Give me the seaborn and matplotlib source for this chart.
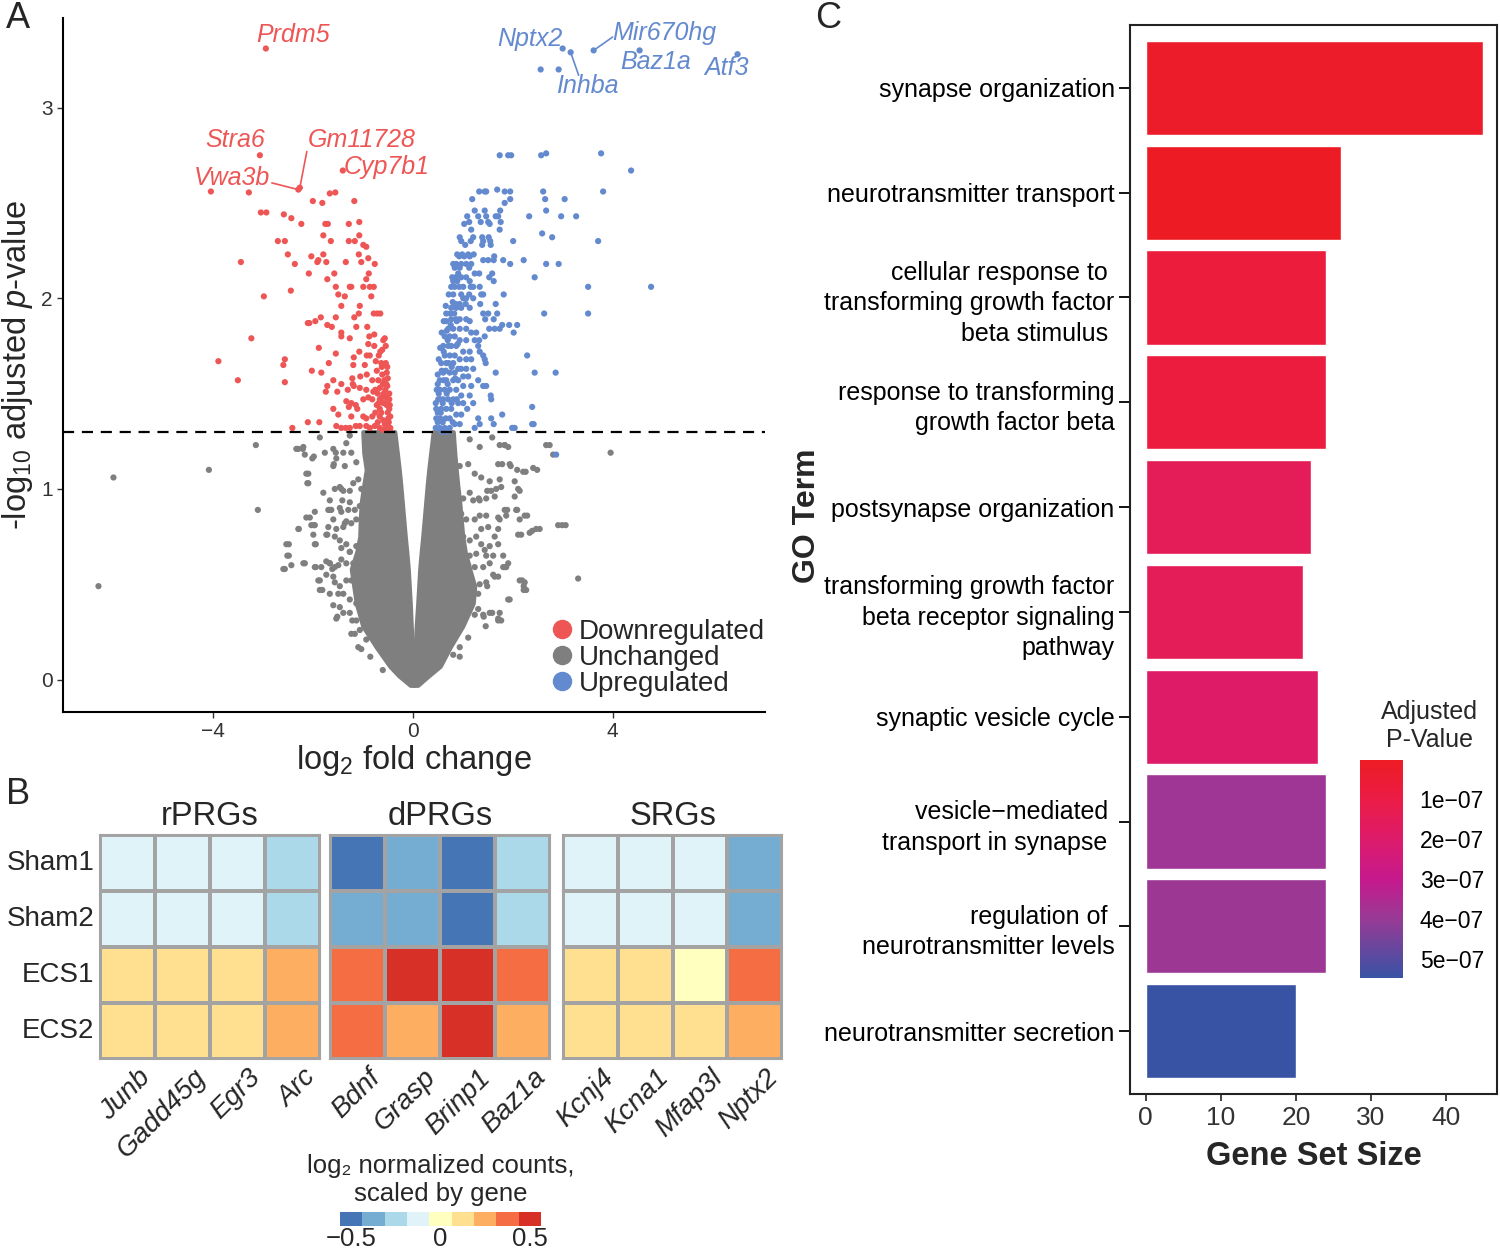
import numpy as np
import pandas as pd
import seaborn as sns
import matplotlib.pyplot as plt
import matplotlib.transforms as mtrans
from matplotlib import font_manager
from matplotlib.colors import ListedColormap, LinearSegmentedColormap, Normalize
from matplotlib.cm import ScalarMappable
from matplotlib.lines import Line2D

# ---------------- data ----------------
# Panel A: volcano (log2 fold change, -log10 adjusted p)
down_pts = [(-2.94, 3.31), (-3.06, 2.75), (-1.40, 2.67), (-2.29, 2.57), (-2.26, 2.58),
            (-4.04, 2.56), (-3.28, 2.555), (-1.66, 2.55), (-1.55, 2.555), (-2.0, 2.51), (-1.81, 2.50), (-1.17, 2.51),
            (-3.04, 2.45), (-2.93, 2.45), (-2.58, 2.44), (-2.43, 2.42), (-2.23, 2.39), (-1.75, 2.39), (-1.70, 2.39),
            (-1.28, 2.39), (-1.07, 2.40), (-1.07, 2.33), (-1.79, 2.33), (-2.70, 2.30), (-2.56, 2.30), (-1.64, 2.30),
            (-1.28, 2.30), (-1.16, 2.30), (-0.99, 2.28), (-0.93, 2.27), (-2.50, 2.23), (-2.03, 2.22), (-1.79, 2.23),
            (-1.89, 2.20), (-1.91, 2.19), (-1.73, 2.19), (-1.34, 2.19), (-1.08, 2.23), (-0.89, 2.21), (-1.03, 2.19),
            (-0.76, 2.18), (-3.44, 2.19), (-2.36, 2.18), (-2.08, 2.13), (-1.57, 2.13), (-1.71, 2.10), (-0.88, 2.13),
            (-0.93, 2.10), (-0.99, 2.06), (-0.86, 2.06), (-0.78, 2.06), (-1.54, 2.06), (-1.26, 2.06), (-1.23, 2.06),
            (-2.98, 2.01), (-2.44, 2.04), (-1.49, 2.02), (-1.36, 2.01), (-0.83, 2.01), (-1.43, 1.96), (-1.06, 1.96),
            (-1.08, 1.92), (-0.78, 1.92), (-0.71, 1.92), (-0.65, 1.92), (-2.10, 1.87), (-2.07, 1.87), (-1.95, 1.88),
            (-1.84, 1.90), (-1.54, 1.90), (-1.71, 1.86), (-1.62, 1.85), (-1.17, 1.90), (-1.13, 1.85), (-0.91, 1.85),
            (-1.43, 1.82), (-3.23, 1.79), (-1.43, 1.80), (-1.26, 1.79), (-0.87, 1.80), (-0.77, 1.81), (-0.59, 1.78),
            (-0.56, 1.79), (-0.89, 1.76), (-0.77, 1.75), (-0.54, 1.75), (-0.61, 1.73), (-1.07, 1.72), (-1.88, 1.74),
            (-1.54, 1.71), (-1.18, 1.69), (-0.92, 1.70), (-0.86, 1.70), (-0.74, 1.67), (-0.63, 1.66), (-0.62, 1.64),
            (-0.54, 1.66), (-3.89, 1.67), (-2.56, 1.68), (-2.59, 1.65), (-1.68, 1.66), (-1.19, 1.65), (-0.96, 1.65),
            (-0.51, 1.64), (-0.52, 1.61), (-2.02, 1.62), (-1.83, 1.61), (-3.50, 1.57), (-2.56, 1.56), (-1.59, 1.57),
            (-1.43, 1.55), (-1.21, 1.58), (-1.20, 1.55), (-1.05, 1.59), (-0.92, 1.60), (-0.81, 1.57), (-0.69, 1.57),
            (-0.61, 1.60), (-0.57, 1.57), (-0.53, 1.55), (-1.71, 1.54), (-1.74, 1.51), (-1.51, 1.51), (-1.30, 1.52),
            (-1.06, 1.53), (-1.18, 1.54), (-0.93, 1.52), (-0.79, 1.51), (-0.66, 1.53), (-0.55, 1.52), (-0.51, 1.54),
            (-1.33, 1.46), (-1.23, 1.45), (-1.14, 1.44), (-1.11, 1.42), (-0.99, 1.47), (-0.89, 1.48), (-0.81, 1.47),
            (-0.66, 1.47), (-0.59, 1.45), (-0.53, 1.48), (-0.47, 1.47), (-1.59, 1.42), (-1.28, 1.43), (-0.66, 1.42),
            (-0.47, 1.42), (-1.49, 1.39), (-1.23, 1.38), (-0.99, 1.38), (-0.93, 1.37), (-0.81, 1.38), (-0.66, 1.38),
            (-0.59, 1.36), (-0.49, 1.37), (-2.10, 1.35), (-1.87, 1.35), (-2.41, 1.32), (-1.53, 1.33), (-1.43, 1.32),
            (-1.34, 1.32), (-1.26, 1.32), (-1.14, 1.33), (-1.06, 1.33), (-0.93, 1.33), (-0.86, 1.32), (-0.76, 1.33),
            (-0.66, 1.32), (-0.56, 1.34), (-0.49, 1.33), (-0.45, 1.32), (-0.48, 1.35), (-0.50, 1.40), (-0.52, 1.44),
            (-0.47, 1.50), (-0.58, 1.50), (-0.72, 1.44), (-0.75, 1.52), (-0.63, 1.40), (-0.70, 1.35), (-0.45, 1.38),
            (-0.50, 1.31), (-0.60, 1.31), (-0.72, 1.62), (-0.68, 1.70), (-0.46, 1.44), (-0.55, 1.45), (-0.62, 1.48),
            (-0.70, 1.50), (-0.50, 1.58), (-0.58, 1.65), (-0.65, 1.72), (-0.60, 1.55), (-0.46, 1.31), (-0.54, 1.31),
            (-0.68, 1.45), (-0.75, 1.40)]

up_pts = [(3.00, 3.31), (3.16, 3.29), (3.62, 3.30), (4.54, 3.30), (6.50, 3.28), (2.56, 3.20), (2.92, 3.20),
          (1.74, 2.75), (1.91, 2.75), (1.97, 2.75), (2.57, 2.75), (2.67, 2.76), (3.77, 2.76), (4.37, 2.67),
          (1.33, 2.56), (1.44, 2.56), (1.47, 2.56), (1.69, 2.57), (1.84, 2.56), (1.95, 2.56), (2.61, 2.56), (3.81, 2.56),
          (1.19, 2.52), (1.95, 2.52), (2.65, 2.52), (3.04, 2.52), (1.84, 2.50), (1.24, 2.46), (1.44, 2.46),
          (1.75, 2.46), (2.67, 2.46), (1.09, 2.43), (1.31, 2.43), (1.47, 2.43), (1.66, 2.43), (1.71, 2.43),
          (2.33, 2.43), (2.97, 2.43), (3.27, 2.43), (1.13, 2.40), (1.36, 2.40), (1.51, 2.40), (1.76, 2.40),
          (1.03, 2.39), (1.54, 2.39), (1.17, 2.36), (1.74, 2.36), (2.59, 2.34), (0.94, 2.32), (1.21, 2.32),
          (1.39, 2.32), (1.52, 2.32), (2.79, 2.32), (0.97, 2.30), (1.16, 2.30), (1.41, 2.30), (1.55, 2.30),
          (2.01, 2.30), (3.71, 2.30), (1.05, 2.28), (1.39, 2.28), (1.56, 2.28), (0.89, 2.23), (0.99, 2.23),
          (1.11, 2.23), (1.22, 2.23), (0.93, 2.22), (1.03, 2.22), (1.14, 2.22), (1.63, 2.22), (1.41, 2.20),
          (1.51, 2.20), (1.62, 2.20), (1.81, 2.20), (2.22, 2.20), (0.81, 2.18), (0.87, 2.18), (0.97, 2.18),
          (1.07, 2.18), (1.17, 2.18), (2.67, 2.18), (2.92, 2.18), (1.95, 2.18), (0.84, 2.16), (0.94, 2.16),
          (1.13, 2.16), (0.91, 2.13), (1.24, 2.13), (1.33, 2.13), (1.59, 2.13), (0.79, 2.11), (0.86, 2.11),
          (0.97, 2.11), (1.07, 2.11), (1.53, 2.11), (2.44, 2.11), (0.81, 2.09), (0.89, 2.09), (1.14, 2.09),
          (1.62, 2.09), (0.77, 2.06), (0.84, 2.06), (0.93, 2.06), (1.01, 2.06), (1.16, 2.06), (1.21, 2.06),
          (1.34, 2.06), (3.51, 2.06), (4.77, 2.06), (0.81, 2.02), (0.97, 2.02), (1.13, 2.02), (1.37, 2.02),
          (1.41, 2.02), (1.82, 2.02), (1.01, 2.00), (1.07, 2.00), (1.21, 2.00), (0.86, 1.97), (0.94, 1.97),
          (1.06, 1.97), (1.35, 1.97), (1.66, 1.97), (0.77, 1.95), (0.87, 1.95), (0.97, 1.95), (1.14, 1.95),
          (0.67, 1.92), (0.75, 1.92), (0.83, 1.92), (1.41, 1.92), (1.51, 1.92), (1.69, 1.92), (2.63, 1.92),
          (3.51, 1.92), (0.77, 1.89), (0.87, 1.89), (0.94, 1.89), (1.07, 1.89), (1.45, 1.89), (1.62, 1.89),
          (0.67, 1.88), (1.14, 1.88), (1.93, 1.86), (2.09, 1.86), (1.79, 1.86), (0.71, 1.84), (0.81, 1.84),
          (0.94, 1.84), (1.07, 1.84), (1.53, 1.84), (1.64, 1.84), (1.74, 1.84), (1.17, 1.82), (1.27, 1.82),
          (2.02, 1.82), (0.64, 1.80), (0.74, 1.80), (0.84, 1.80), (1.44, 1.80), (0.94, 1.78), (1.07, 1.78),
          (1.24, 1.78), (1.33, 1.78), (0.61, 1.75), (0.71, 1.75), (0.77, 1.75), (0.87, 1.75), (1.31, 1.75),
          (1.01, 1.72), (1.14, 1.72), (1.34, 1.72), (0.64, 1.70), (0.74, 1.70), (0.84, 1.70), (2.29, 1.70),
          (1.41, 1.70), (0.94, 1.68), (1.07, 1.68), (1.17, 1.68), (1.44, 1.68), (0.57, 1.66), (0.67, 1.66),
          (0.81, 1.66), (1.46, 1.66), (0.91, 1.63), (0.97, 1.63), (1.07, 1.63), (1.21, 1.63), (0.61, 1.61),
          (0.74, 1.61), (0.84, 1.61), (1.66, 1.61), (2.44, 1.61), (2.86, 1.61), (1.01, 1.59), (1.11, 1.59),
          (0.54, 1.57), (0.67, 1.57), (0.81, 1.57), (0.91, 1.57), (1.31, 1.57), (1.01, 1.54), (1.17, 1.54),
          (1.41, 1.54), (1.47, 1.54), (0.54, 1.52), (0.64, 1.52), (0.74, 1.52), (0.87, 1.52), (0.97, 1.49),
          (1.14, 1.49), (1.56, 1.49), (0.51, 1.47), (0.61, 1.47), (0.71, 1.47), (0.81, 1.47), (1.57, 1.47),
          (0.91, 1.45), (1.01, 1.45), (1.21, 1.45), (2.39, 1.43), (0.47, 1.42), (0.57, 1.42), (0.67, 1.42),
          (0.77, 1.42), (1.09, 1.42), (0.87, 1.39), (0.97, 1.39), (1.79, 1.39), (0.47, 1.37), (0.55, 1.37),
          (0.66, 1.37), (0.74, 1.37), (1.31, 1.37), (1.57, 1.37), (0.84, 1.34), (0.94, 1.34), (1.34, 1.34),
          (2.39, 1.34), (1.62, 1.34), (0.46, 1.32), (0.54, 1.32), (0.64, 1.32), (0.74, 1.32), (1.24, 1.32),
          (1.99, 1.32), (2.04, 1.32), (2.42, 1.34), (2.87, 1.18), (0.50, 1.35), (0.60, 1.45), (0.50, 1.55),
          (0.58, 1.62), (0.70, 1.55), (0.62, 1.72), (0.70, 1.78), (0.56, 1.40), (0.52, 1.50), (0.68, 1.50),
          (0.60, 1.35), (0.78, 1.45), (0.46, 1.45), (0.48, 1.52), (0.50, 1.60), (0.52, 1.68), (0.55, 1.74),
          (0.58, 1.82), (0.62, 1.88), (0.66, 1.96), (0.72, 2.02), (0.50, 1.40), (0.55, 1.47), (0.62, 1.57),
          (0.66, 1.62), (0.72, 1.66), (0.78, 1.64), (0.85, 1.58), (0.88, 1.47), (0.80, 1.35), (0.70, 1.30),
          (0.58, 1.30), (0.88, 1.88), (0.80, 1.98), (0.90, 1.76), (0.76, 1.86), (0.68, 1.83)]

gray_pts = [(-6.29, 0.49), (-5.99, 1.06), (-4.08, 1.10), (-3.14, 1.23), (-3.10, 0.89), (-2.56, 0.58),
            (-2.48, 0.71), (-2.48, 0.65), (-2.28, 0.79), (-2.16, 0.61), (-2.29, 1.21), (-2.20, 1.21),
            (-2.09, 1.08), (-2.09, 1.03), (-1.98, 1.17), (-2.06, 0.85), (-1.98, 0.81), (-1.94, 0.71),
            (-1.94, 0.59), (-1.86, 0.52), (-1.81, 0.47), (-1.71, 0.76), (-1.66, 0.89), (-1.66, 0.61),
            (-1.61, 0.58), (-1.51, 0.33), (-1.46, 0.38), (-1.58, 1.13), (-1.54, 1.19), (-1.46, 1.01),
            (-1.41, 0.94), (-1.36, 0.82), (-1.26, 0.67), (-1.16, 0.24), (-1.21, 0.31),
            (-2.33, 1.21), (-2.19, 1.22), (-2.16, 1.18), (-2.01, 1.16), (-1.86, 1.27), (-1.76, 1.19),
            (-1.59, 1.21), (-1.39, 1.19), (-1.33, 1.24), (-1.26, 1.28), (-2.13, 1.08), (-2.11, 1.03),
            (-1.59, 1.12), (-1.53, 1.16), (-1.36, 1.12), (-1.23, 1.19), (-1.13, 1.14), (-1.79, 0.98),
            (-1.66, 0.94), (-1.56, 1.00), (-1.43, 1.00), (-1.39, 0.99), (-1.26, 0.99), (-1.19, 1.03),
            (-1.09, 1.05), (-1.03, 1.00), (-1.96, 0.88), (-1.69, 0.89), (-1.63, 0.89), (-1.46, 0.90),
            (-1.43, 0.88), (-1.29, 0.89), (-1.26, 0.93), (-1.16, 0.89), (-1.06, 0.91), (-2.13, 0.85),
            (-2.29, 0.79), (-2.03, 0.81), (-1.96, 0.81), (-1.99, 0.76), (-1.69, 0.80), (-1.59, 0.84),
            (-1.53, 0.79), (-1.39, 0.80), (-1.33, 0.83), (-1.23, 0.82), (-1.13, 0.84), (-2.53, 0.71),
            (-2.51, 0.65), (-2.43, 0.60), (-2.59, 0.58), (-2.19, 0.61), (-1.96, 0.71), (-1.73, 0.76),
            (-1.56, 0.75), (-1.46, 0.73), (-1.43, 0.69), (-1.33, 0.71), (-1.26, 0.67), (-1.13, 0.70),
            (-1.96, 0.59), (-1.83, 0.59), (-1.73, 0.62), (-1.66, 0.61), (-1.56, 0.59), (-1.49, 0.60),
            (-1.43, 0.63), (-1.33, 0.61), (-1.19, 0.61), (-1.89, 0.52), (-1.86, 0.47), (-1.73, 0.55),
            (-1.59, 0.54), (-1.56, 0.51), (-1.46, 0.49), (-1.33, 0.52), (-1.23, 0.52), (-1.66, 0.45),
            (-1.59, 0.39), (-1.49, 0.45), (-1.39, 0.45), (-1.26, 0.42), (-1.13, 0.40), (-1.53, 0.32),
            (-1.39, 0.35), (-1.26, 0.35), (-1.13, 0.31), (-1.23, 0.24), (-1.06, 0.26), (-1.09, 0.17),
            (-1.03, 0.16), (-0.93, 0.21), (-0.85, 0.12), (-0.60, 0.05),
            (1.14, 1.26), (1.34, 1.22), (1.59, 1.27), (1.84, 1.23), (1.91, 1.22), (1.79, 1.13), (1.96, 1.12),
            (2.26, 1.09), (2.49, 1.10), (2.74, 1.23), (3.96, 1.19), (2.09, 0.89), (1.89, 0.89), (2.14, 0.84),
            (2.29, 0.86), (2.17, 0.76), (2.39, 0.78), (2.54, 0.79), (2.99, 0.81), (3.06, 0.81), (3.31, 0.53),
            (2.19, 0.52), (2.27, 0.47), (2.22, 0.49), (1.94, 0.42), (1.77, 0.31), (1.74, 0.35), (1.84, 0.59),
            (1.91, 0.61), (1.64, 0.54), (1.49, 0.49), (1.59, 0.35), (1.42, 0.33), (1.44, 0.68), (1.64, 0.75),
            (1.74, 0.84), (1.49, 0.99), (1.64, 0.96), (1.32, 0.95), (1.74, 1.05), (2.14, 0.99), (2.09, 1.10),
            (0.94, 1.12), (1.11, 1.13), (1.24, 1.08), (1.37, 1.06), (1.54, 1.04), (1.71, 1.13), (1.74, 1.23),
            (1.84, 1.23), (1.94, 1.13), (2.21, 1.09), (2.41, 1.11), (2.67, 1.23), (2.81, 1.18), (2.91, 0.81),
            (1.01, 0.95), (1.14, 0.98), (1.21, 0.94), (1.34, 0.94), (1.47, 0.95), (1.57, 0.99), (1.67, 1.00),
            (1.77, 1.01), (2.04, 1.04), (2.11, 1.00), (2.04, 0.96), (1.87, 0.86), (1.84, 0.89), (2.07, 0.89),
            (2.24, 0.86), (2.11, 0.76), (2.34, 0.77), (2.47, 0.79), (0.97, 0.87), (1.07, 0.84), (1.24, 0.84),
            (1.34, 0.86), (1.47, 0.86), (1.51, 0.80), (1.71, 0.85), (1.71, 0.79), (1.37, 0.79), (1.01, 0.75),
            (1.14, 0.73), (1.27, 0.75), (1.37, 0.71), (1.54, 0.70), (1.71, 0.71), (1.81, 0.65), (1.61, 0.65),
            (1.47, 0.65), (1.27, 0.66), (1.14, 0.65), (1.11, 0.60), (1.24, 0.59), (1.41, 0.59), (1.54, 0.61),
            (1.71, 0.54), (1.61, 0.55), (1.81, 0.59), (1.87, 0.59), (2.14, 0.52), (2.24, 0.51), (2.22, 0.47),
            (1.91, 0.42), (1.04, 0.50), (1.21, 0.49), (1.34, 0.50), (1.47, 0.51), (1.31, 0.45), (1.17, 0.44),
            (1.11, 0.38), (1.31, 0.37), (1.41, 0.34), (1.54, 0.35), (1.71, 0.32), (1.71, 0.31), (1.46, 0.28),
            (1.24, 0.34), (1.11, 0.22), (0.94, 0.17), (0.81, 0.13), (0.94, 0.12)]

# saturated grey core of the volcano: outer / inner edges at each level
core_y = [-0.03, 0.02, 0.07, 0.17, 0.28, 0.40, 0.49, 0.58, 0.67, 0.75, 0.84, 0.93, 1.02, 1.10, 1.19, 1.30]
core_left_outer = [-0.05, -0.28, -0.46, -0.73, -1.00, -1.13, -1.18, -1.23, -1.12, -1.06, -1.05, -1.03, -0.98, -0.93, -0.98, -1.00]
core_left_inner = [0.02, 0.02, 0.01, -0.01, -0.03, -0.05, -0.07, -0.09, -0.12, -0.15, -0.18, -0.21, -0.24, -0.27, -0.31, -0.36]
core_right_inner = [0.02, 0.02, 0.03, 0.05, 0.07, 0.10, 0.12, 0.14, 0.17, 0.20, 0.23, 0.26, 0.29, 0.32, 0.36, 0.41]
core_right_outer = [0.10, 0.32, 0.55, 0.75, 1.00, 1.21, 1.24, 1.14, 1.05, 1.00, 0.97, 0.94, 0.90, 0.87, 0.84, 0.81]

padj_cut = 0.05

# Panel B: heatmap (scaled log2 counts)
samples = ['Sham1', 'Sham2', 'ECS1', 'ECS2']
rprg_genes = ['Junb', 'Gadd45g', 'Egr3', 'Arc']
rprg_vals = [[-0.13, -0.12, 0.12, 0.13], [-0.12, -0.13, 0.13, 0.12],
             [-0.12, -0.12, 0.12, 0.12], [-0.24, -0.25, 0.25, 0.24]]
dprg_genes = ['Bdnf', 'Grasp', 'Brinp1', 'Baz1a']
dprg_vals = [[-0.52, -0.36, 0.41, 0.38], [-0.37, -0.38, 0.50, 0.26],
             [-0.49, -0.50, 0.50, 0.49], [-0.26, -0.25, 0.38, 0.27]]
srg_genes = ['Kcnj4', 'Kcna1', 'Mfap3l', 'Nptx2']
srg_vals = [[-0.12, -0.12, 0.13, 0.11], [-0.12, -0.13, 0.12, 0.13],
            [-0.14, -0.12, 0.04, 0.12], [-0.37, -0.36, 0.40, 0.30]]
group_names = ['rPRGs', 'dPRGs', 'SRGs']

# Panel C: GO enrichment
go_terms = ['synapse organization',
            'neurotransmitter transport',
            'cellular response to \ntransforming growth factor\nbeta stimulus ',
            'response to transforming\ngrowth factor beta',
            'postsynapse organization',
            'transforming growth factor\nbeta receptor signaling\npathway',
            'synaptic vesicle cycle',
            'vesicle\u2212mediated \ntransport in synapse ',
            'regulation of \nneurotransmitter levels',
            'neurotransmitter secretion']
go_sizes = [45, 26, 24, 24, 22, 21, 23, 24, 24, 20]
go_padj = [0.25e-7, 0.02e-7, 0.75e-7, 0.78e-7, 1.45e-7, 1.5e-7, 1.9e-7, 3.85e-7, 3.9e-7, 5.47e-7]

# ---------------- style ----------------
sns.set_theme(style='white')
installed = {f.name for f in font_manager.fontManager.ttflist}
base = 'Liberation Sans Narrow' if 'Liberation Sans Narrow' in installed else 'Liberation Sans'
plt.rcParams['font.family'] = [base, 'DejaVu Sans']
plt.rcParams['mathtext.fontset'] = 'custom'
plt.rcParams['mathtext.rm'] = base
plt.rcParams['mathtext.it'] = base + ':italic'

RED = '#EE5656'
BLUE = '#6389CE'
GREY = '#7F7F7F'
W, H = 1500, 1249

fig = plt.figure(figsize=(15, 12.49), dpi=100)


def px_box(x0, y0, x1, y1):
    return [x0 / W, 1 - y1 / H, (x1 - x0) / W, (y1 - y0) / H]


# ---------------- panel A ----------------
axA = fig.add_axes(px_box(63, 18, 765, 712))
frames = []
for name, pts in [('Unchanged', gray_pts), ('Downregulated', down_pts), ('Upregulated', up_pts)]:
    d = pd.DataFrame(pts, columns=['lfc', 'nlp'])
    d['status'] = name
    frames.append(d)
volc = pd.concat(frames, ignore_index=True)

axA.fill_betweenx(core_y, core_left_outer, core_left_inner, color=GREY, lw=3, zorder=1)
axA.fill_betweenx(core_y, core_right_inner, core_right_outer, color=GREY, lw=3, zorder=1)
sns.scatterplot(data=volc, x='lfc', y='nlp', hue='status',
                palette={'Unchanged': GREY, 'Downregulated': RED, 'Upregulated': BLUE},
                s=20, linewidth=0, legend=False, ax=axA, zorder=2)
axA.axhline(-np.log10(padj_cut), color='black', lw=1.6, dashes=(5, 3.5), zorder=3)

axA.set_xlim(-7.0, 7.05)
axA.set_ylim(-0.17, 3.47)
axA.set_xticks([-4, 0, 4])
axA.set_yticks([0, 1, 2, 3])
axA.tick_params(labelsize=15, length=4, width=1, colors='#333333', left=True, bottom=True)
for s in ['top', 'right']:
    axA.spines[s].set_visible(False)
for s in ['left', 'bottom']:
    axA.spines[s].set_color('black')
    axA.spines[s].set_linewidth(1.5)
axA.set_xlabel(r'log$_2$ fold change', fontsize=23.5, labelpad=1)
axA.set_ylabel(r'-log$_{10}$ adjusted $p$-value', fontsize=23.5, labelpad=4)

lab_kw = dict(fontsize=18, fontstyle='italic', ha='center', va='center')
for txt, x, y in [('Prdm5', -2.4, 3.38), ('Stra6', -3.56, 2.83), ('Gm11728', -1.02, 2.83),
                  ('Vwa3b', -3.62, 2.63), ('Cyp7b1', -0.52, 2.69)]:
    axA.text(x, y, txt, color=RED, **lab_kw)
for txt, x, y in [('Nptx2', 2.34, 3.36), ('Mir670hg', 5.04, 3.39), ('Inhba', 3.5, 3.115),
                  ('Baz1a', 4.86, 3.24), ('Atf3', 6.28, 3.21)]:
    axA.text(x, y, txt, color=BLUE, **lab_kw)
axA.plot([-2.26, -2.12], [2.58, 2.77], color=RED, lw=1.2)
axA.plot([-2.82, -2.29], [2.605, 2.57], color=RED, lw=1.2)
axA.plot([3.16, 3.32], [3.29, 3.17], color=BLUE, lw=1.2)
axA.plot([3.62, 4.0], [3.30, 3.37], color=BLUE, lw=1.2)

handles = [Line2D([], [], marker='o', ls='', color=c, markersize=13) for c in (RED, GREY, BLUE)]
axA.legend(handles, ['Downregulated', 'Unchanged', 'Upregulated'], loc='lower right',
           bbox_to_anchor=(1.016, 0.006), frameon=False, fontsize=20, handletextpad=0.02,
           labelspacing=0.0, borderaxespad=0, handlelength=1.2)

# ---------------- panel B ----------------
heat_colors = ['#4575B4', '#74ADD1', '#ABD9E9', '#E0F3F8', '#FFFFBF',
               '#FEE090', '#FDAE61', '#F46D43', '#D73027']
heat_cmap = ListedColormap(heat_colors)
hv_min, hv_max = -0.5625, 0.5625
shift_right = mtrans.ScaledTranslation(0.10, 0, fig.dpi_scale_trans)

blocks = [(rprg_genes, rprg_vals, 100, 320), (dprg_genes, dprg_vals, 330, 550),
          (srg_genes, srg_vals, 563, 782)]
for i, (genes, vals, x0, x1) in enumerate(blocks):
    ax = fig.add_axes(px_box(x0, 835, x1, 1059))
    block = pd.DataFrame(np.array(vals).T, index=samples, columns=genes)
    sns.heatmap(block, ax=ax, cmap=heat_cmap, vmin=hv_min, vmax=hv_max, cbar=False,
                linewidths=1.5, linecolor='#A3A3A3')
    for s in ax.spines.values():
        s.set_visible(True)
        s.set_color('#A3A3A3')
        s.set_linewidth(1.5)
    ax.set_xlabel('')
    ax.set_ylabel('')
    ax.set_title(group_names[i], fontsize=23.5, pad=7)
    ax.tick_params(length=0, pad=4)
    ax.set_xticklabels(genes, rotation=45, ha='right', va='top', rotation_mode='anchor',
                       fontstyle='italic', fontsize=20)
    for lab in ax.get_xticklabels():
        lab.set_transform(lab.get_transform() + shift_right)
    if i == 0:
        ax.set_yticklabels(samples, rotation=0, fontsize=20)
    else:
        ax.set_yticks([])

cax_b = fig.add_axes(px_box(340, 1212, 541, 1226))
cb_b = fig.colorbar(ScalarMappable(Normalize(hv_min, hv_max), heat_cmap), cax=cax_b,
                    orientation='horizontal')
cb_b.outline.set_visible(False)
cb_b.set_ticks([-0.5, 0, 0.5])
cb_b.set_ticklabels(['\u22120.5', '0', '0.5'])
cax_b.tick_params(length=0, labelsize=18.5, pad=1)
fig.text(441 / W, 1 - 1180 / H, 'log\u2082 normalized counts,\nscaled by gene',
         ha='center', va='center', fontsize=18.5, linespacing=1.25)

# ---------------- panel C ----------------
axC = fig.add_axes(px_box(1130, 25, 1497, 1094))
go_cmap = LinearSegmentedColormap.from_list(
    'padj', [(0.0, '#ED1C24'), (0.18, '#EB1C46'), (0.37, '#DC1B6C'), (0.55, '#C5198D'),
             (0.73, '#983A95'), (0.9, '#5B4AA0'), (1.0, '#3953A4')])
go_norm = Normalize(min(go_padj), max(go_padj))
bar_colors = [go_cmap(go_norm(p)) for p in go_padj]
go_df = pd.DataFrame({'term': go_terms, 'size': go_sizes})
sns.barplot(data=go_df, x='size', y='term', hue='term', palette=bar_colors, legend=False,
            width=0.9, saturation=1, ax=axC)
axC.set_xlim(-2.1, 46.8)
axC.set_ylim(9.6, -0.6)
axC.set_xticks([0, 10, 20, 30, 40])
for s in axC.spines.values():
    s.set_visible(True)
    s.set_color('#222222')
    s.set_linewidth(1.5)
axC.tick_params(axis='both', length=5, width=1.3, colors='black', labelsize=18, left=True, bottom=True)
axC.tick_params(axis='y', length=8, pad=3)
axC.tick_params(axis='x', labelsize=19, colors='#333333')
for lab in axC.get_yticklabels():
    lab.set_linespacing(1.35)
axC.set_xlabel('Gene Set Size', fontsize=23.5, fontweight='bold', labelpad=8)
axC.set_ylabel('GO Term', fontsize=23, fontweight='bold')
axC.yaxis.set_label_coords(-0.84, 0.541)

cax_c = fig.add_axes(px_box(1360, 760, 1403, 978))
cb_c = fig.colorbar(ScalarMappable(go_norm, go_cmap), cax=cax_c)
cb_c.outline.set_visible(False)
cax_c.invert_yaxis()
cb_c.set_ticks([1e-7, 2e-7, 3e-7, 4e-7, 5e-7])
cb_c.set_ticklabels(['1e\u221207', '2e\u221207', '3e\u221207', '4e\u221207', '5e\u221207'])
cax_c.tick_params(axis='y', direction='in', length=8, width=1.3, color='white',
                  labelcolor='black', left=True, right=True, labelsize=16.5, pad=12)
fig.text(1429 / W, 1 - 726 / H, 'Adjusted\nP-Value', ha='center', va='center', fontsize=18,
         linespacing=1.2)

# panel letters
fig.text(6 / W, 1 - 18 / H, 'A', fontsize=26, va='center')
fig.text(6 / W, 1 - 795 / H, 'B', fontsize=26, va='center')
fig.text(815 / W, 1 - 18 / H, 'C', fontsize=26, va='center')

fig.savefig('out.png', dpi=100)
